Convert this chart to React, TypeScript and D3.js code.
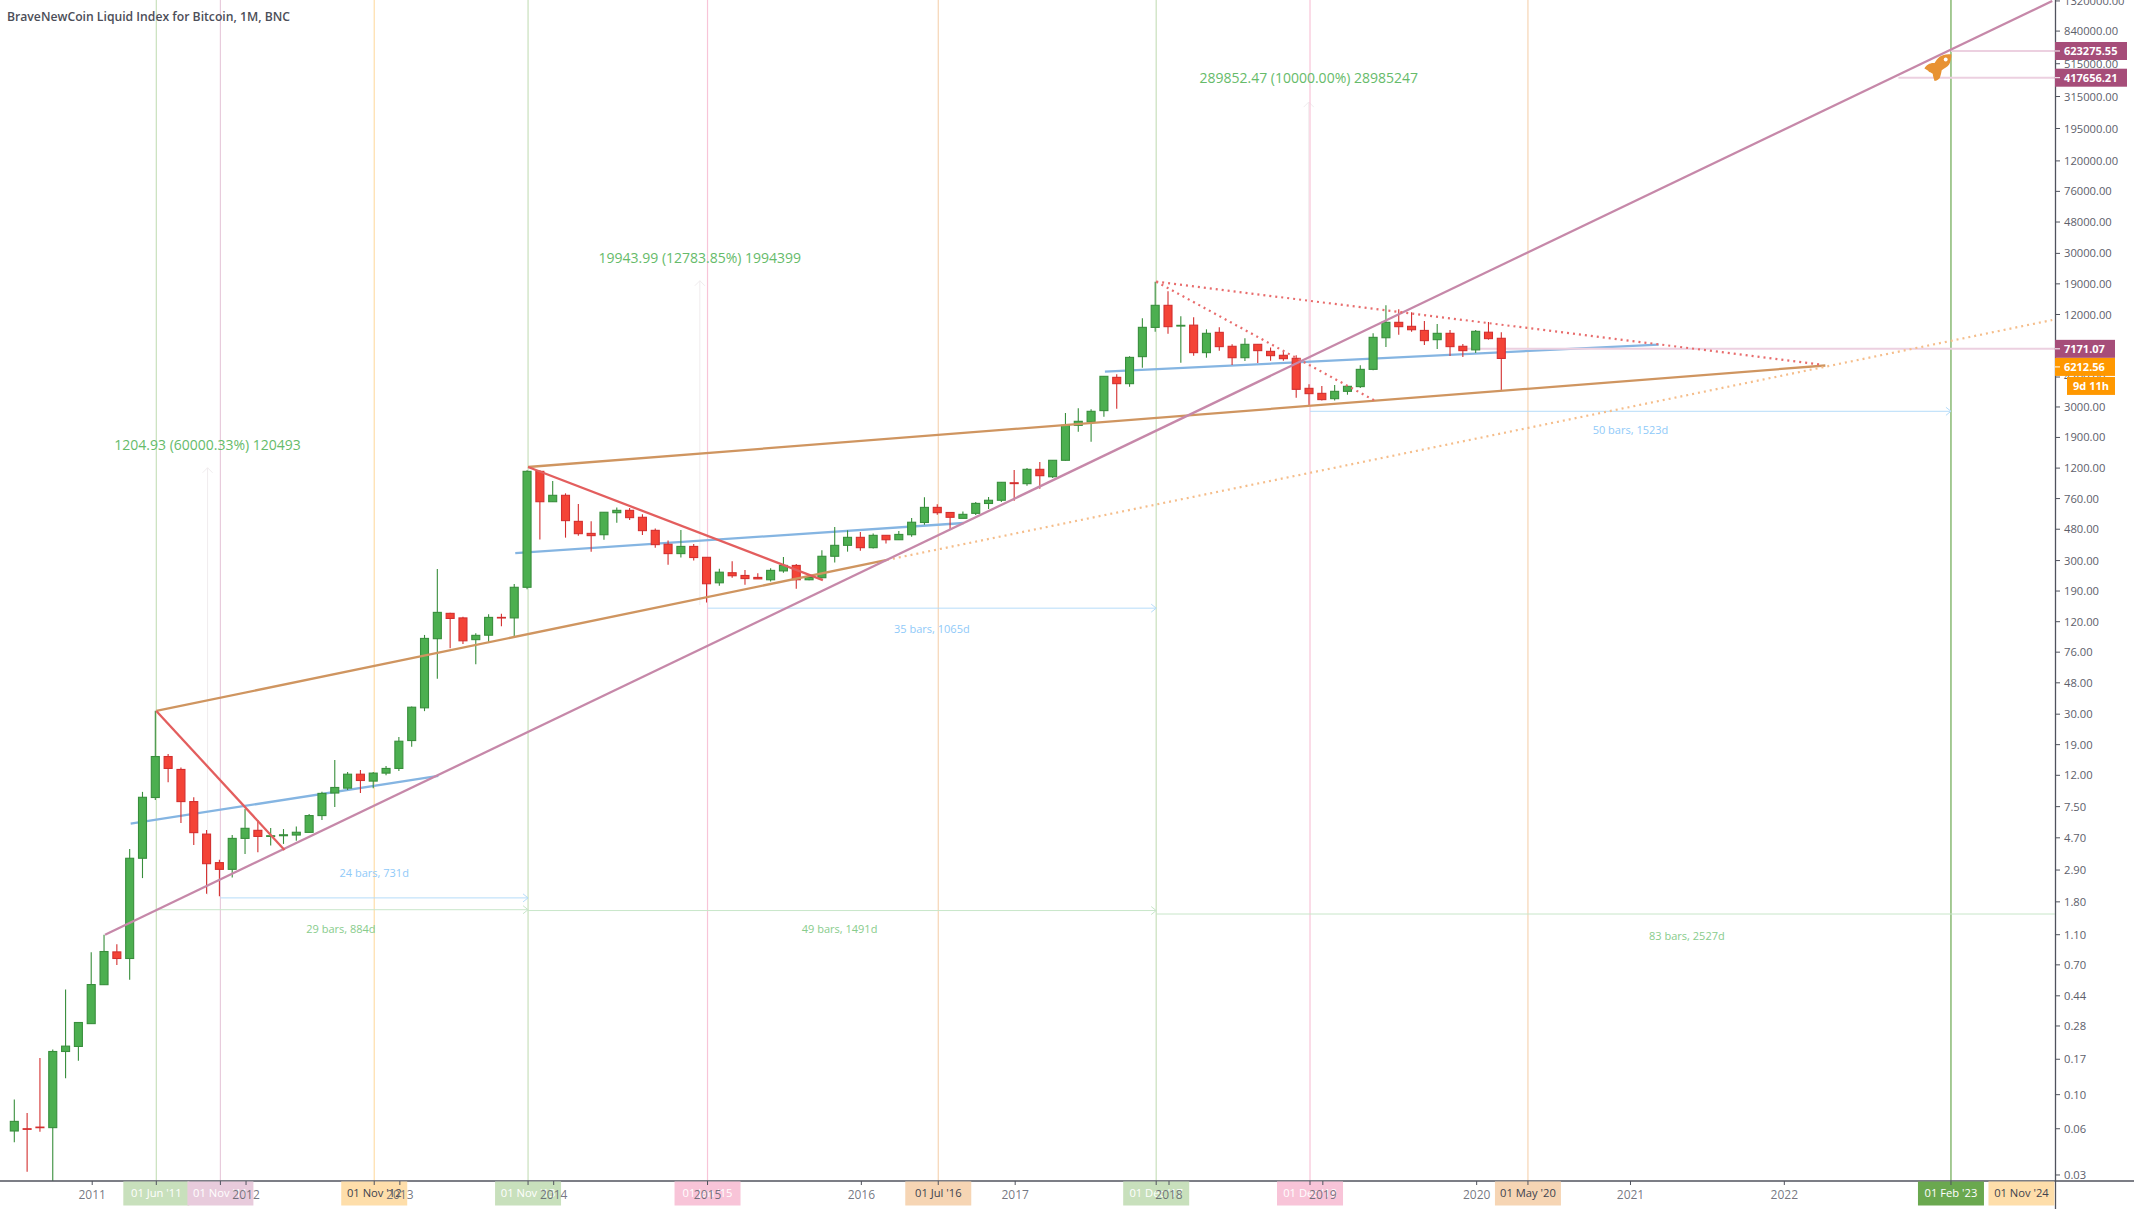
import * as d3 from "d3";

const width = 2134;
const height = 1209;
const plotRight = 2055;
const plotBottom = 1181;
const font = "'Open Sans', sans-serif";

// monthly bars from Jul 2010 to Mar 2020
const opens = [0.058,0.06,0.0615,0.061,0.191,0.206,0.29,0.52,0.85,0.77,3.46,8.6,15.9,13.1,8.09,4.97,3.24,2.93,4.66,5.26,4.8,4.85,4.9,5.1,6.56,9.2,9.9,12.2,11,12.4,13.3,20.2,33,93,136,127,91.7,98,128,127,201,1143,725,798,540,451,442,615,637,574,472,383,333,371,315,215,250,240,233,225,257,279,225,232,320,377,425,364,438,410,442,531,666,617,565,609,706,741,963,950,1178,1054,1349,2278,2400,2840,4677,4255,6380,9890,13770,10090,10230,6774,9183,7450,6280,7674,6905,6510,6220,3967,3680,3397,3793,4070,5272,8470,10670,10050,9450,8227,9050,7450,7060,9200,8400];
const highs = [0.093,0.076,0.173,0.197,0.484,0.295,0.845,1.1,0.955,3.98,9.36,31.6,16.5,13.5,8.63,5.29,3.38,4.91,7.25,6.13,5.45,5.36,5.57,6.72,9.36,15.1,12.6,13,12.6,13.8,21.3,33.6,98.4,264,137,129,101,134,135,211,1160,1160,989,822,700,540,619,666,660,600,486,406,475,385,315,265,297,260,248,267,316,285,244,350,496,472,460,451,438,467,568,774,697,617,627,722,778,975,1166,1201,1314,1352,2741,2940,2897,4750,4898,6412,11325,19630,16980,11670,11500,9608,9899,7674,8395,7674,7330,6840,6510,4211,4110,4169,4100,5598,9050,13770,12970,12400,10890,10400,9510,7709,9510,10720,9190];
const lows = [0.049,0.0315,0.0574,0.01,0.128,0.166,0.29,0.52,0.698,0.56,2.57,8.28,10.8,5.88,4.22,2.03,1.96,2.59,3.69,3.79,4.19,4.29,4.5,5.07,6.15,7.46,9.64,9.2,9.9,12,12.8,18.4,31.4,51,80.7,86,63.5,89,112,95.9,195,411,725,423,436,343,410,529,551,440,364,282,314,300,160,206,232,209,228,219,250,197,223,229,291,343,348,360,387,408,429,514,597,479,565,594,650,722,736,921,881,1034,1340,2070,1783,2594,2924,4066,5408,9272,8995,5830,6475,6280,6980,5623,5975,5797,6005,6005,3451,3045,3300,3300,3606,3990,5200,7375,8870,9272,7600,7155,6442,6345,6738,8230,3870];
const closes = [0.067,0.0595,0.061,0.191,0.207,0.295,0.521,0.855,0.77,3.46,8.63,15.9,13.3,8.09,5.08,3.19,2.93,4.66,5.42,4.8,4.85,4.92,5.11,6.56,9.15,10,12.2,11.1,12.4,13.3,20,33.3,93.4,138,126,90.1,97.8,128,127,201,1143,725,798,546,449,436,619,637,571,470,381,333,371,314,212,252,239,229,228,259,279,225,233,320,377,425,364,438,410,444,533,666,615,574,600,707,741,970,951,1178,1071,1349,2278,2420,2811,4750,4255,6310,9899,13770,10000,10200,6774,9050,7413,6280,7674,6980,6475,6189,3908,3664,3350,3793,4088,5272,8520,10670,10000,9550,8110,9050,7413,6980,9325,8356,6212];

const priceTicks = [1320000,840000,515000,315000,195000,120000,76000,48000,30000,19000,12000,7500,4700,3000,1900,1200,760,480,300,190,120,76,48,30,19,12,7.5,4.7,2.9,1.8,1.1,0.7,0.44,0.28,0.17,0.1,0.06,0.03];
const years = ["2011","2012","2013","2014","2015","2016","2017","2018","2019","2020","2021","2022"];
const yearBars = [6,18,30,42,54,66,78,90,102,114,126,138];

const dateMarkers = [
  { label: "01 Jun '11", bar: 11, line: "#c8e0bc", box: "#c8e0bc", text: "#ffffff" },
  { label: "01 Nov '11", bar: 16, line: "#e8cbdc", box: "#e8cbdc", text: "#ffffff" },
  { label: "01 Nov '12", bar: 28, line: "#fedeaa", box: "#fedeaa", text: "#40434e" },
  { label: "01 Nov '13", bar: 40, line: "#c8e0bc", box: "#c8e0bc", text: "#ffffff" },
  { label: "01 Jan '15", bar: 54, line: "#f8c4d8", box: "#f8c4d8", text: "#ffffff" },
  { label: "01 Jul '16", bar: 72, line: "#f6d5b4", box: "#f6d5b4", text: "#40434e" },
  { label: "01 Dec '17", bar: 89, line: "#c8e0bc", box: "#c8e0bc", text: "#ffffff" },
  { label: "01 Dec '18", bar: 101, line: "#f8c4d8", box: "#f8c4d8", text: "#ffffff" },
  { label: "01 May '20", bar: 118, line: "#f6d5b4", box: "#f6d5b4", text: "#40434e" },
  { label: "01 Feb '23", bar: 151, line: "#6aa84f", box: "#6aa84f", text: "#ffffff" },
];
// its real date is past the right edge, so the label is pinned to the axis
const pinnedLabel = { label: "01 Nov '24", bar: 156.5, box: "#fedeaa", text: "#40434e" };

type P = [number, number];
const orangeLines: P[][] = [
  [[11, 31.5], [68, 303]],
  [[40, 1220], [141.2, 5586]],
];
const orangeDotted: P[] = [[68, 303], [158.9, 11050]];
const purpleLine: P[] = [[7, 1.1], [158.9, 1319000]];
const blueLines: P[][] = [
  [[9, 5.81], [33, 11.9]],
  [[39, 335], [74, 527]],
  [[85, 5090], [128.2, 7642]],
];
const redLines: P[][] = [
  [[11, 31.5], [21, 3.92]],
  [[40, 1220], [63, 224]],
];
const redDotted: P[][] = [
  [[89, 19620], [106, 3316]],
  [[89, 19620], [140.9, 5662]],
];
const levelLines = [
  { price: 623275.55, from: 151 },
  { price: 417656.21, from: 146.9 },
  { price: 7171.07, from: 113.2 },
];
const blueRanges = [
  { from: 16, to: 40, price: 1.91, text: "24 bars, 731d", textBar: 28, textPrice: 2.77 },
  { from: 54, to: 89, price: 147, text: "35 bars, 1065d", textBar: 71.5, textPrice: 108 },
  { from: 101, to: 151, price: 2812, text: "50 bars, 1523d", textBar: 126, textPrice: 2110 },
];
const greenRanges = [
  { from: 11, to: 40, price: 1.6, text: "29 bars, 884d", textBar: 25.4, textPrice: 1.2 },
  { from: 40, to: 89, price: 1.58, text: "49 bars, 1491d", textBar: 64.3, textPrice: 1.19 },
  { from: 89, to: 159.1, price: 1.5, text: "83 bars, 2527d", textBar: 130.4, textPrice: 1.08 },
];
const priceRanges = [
  { bar: 15, low: 2, high: 1206, text: "1204.93 (60000.33%) 120493", textPrice: 1700 },
  { bar: 53.4, low: 154, high: 19900, text: "19943.99 (12783.85%) 1994399", textPrice: 28000 },
  { bar: 100.9, low: 3200, high: 290000, text: "289852.47 (10000.00%) 28985247", textPrice: 415000 },
];
const priceTags = [
  { price: 623275.55, label: "623275.55", right: 2127 },
  { price: 417656.21, label: "417656.21", right: 2127 },
  { price: 7171.07, label: "7171.07", right: 2115 },
];

const bars = d3.range(opens.length);
const x = d3.scaleLinear().domain([0, 116]).range([14.3, 1501.3]);
const y = d3.scaleLog().domain([10 ** (6.1267 - plotBottom / 153.6), 10 ** 6.1267]).range([plotBottom, 0]);
// drawings sit one pixel to the right of the bar centres
const dx = (bar: number) => x(bar) + 1;
const path = d3.line<P>().x((d) => dx(d[0])).y((d) => y(d[1]));

function App() {
  return (
    <svg width={width} height={height} style={{ position: "fixed", left: 0, top: 0, background: "#fff" }} fontFamily={font}>
      <defs>
        <clipPath id="plot">
          <rect x={0} y={0} width={plotRight} height={plotBottom} />
        </clipPath>
      </defs>

      <g clipPath="url(#plot)">
        {priceRanges.map((r) => (
          <g key={r.text} stroke="#f0ecee" fill="none">
            <line x1={dx(r.bar)} x2={dx(r.bar)} y1={y(r.low)} y2={y(r.high)} />
            <path d={`M${dx(r.bar) - 5},${y(r.high) + 5}L${dx(r.bar)},${y(r.high)}L${dx(r.bar) + 5},${y(r.high) + 5}`} />
          </g>
        ))}
        {dateMarkers.map((m) => (
          <line key={m.label} x1={dx(m.bar)} x2={dx(m.bar)} y1={0} y2={plotBottom} stroke={m.line} strokeWidth={1.2} />
        ))}
        {blueLines.map((l, i) => (
          <path key={i} d={path(l) as string} stroke="#85b5e2" strokeWidth={2.3} fill="none" />
        ))}
        {levelLines.map((l) => (
          <line key={l.price} x1={dx(l.from)} x2={plotRight} y1={y(l.price)} y2={y(l.price)} stroke="#ecd0e0" strokeWidth={2} />
        ))}

        {bars.map((i) => {
          const up = closes[i] >= opens[i];
          const edge = up ? "#388e3c" : "#d32f2f";
          const top = y(Math.max(opens[i], closes[i]));
          const bottom = y(Math.min(opens[i], closes[i]));
          return (
            <g key={i}>
              <line x1={x(i)} x2={x(i)} y1={y(highs[i])} y2={y(lows[i])} stroke={edge} strokeWidth={1.1} />
              <rect x={x(i) - 4} y={top} width={8} height={Math.max(bottom - top, 0.6)} fill={up ? "#4caf50" : "#f44336"} stroke={edge} strokeWidth={1.1} />
            </g>
          );
        })}

        {blueRanges.map((r) => (
          <g key={r.text} stroke="#b6dcf9" fill="none">
            <line x1={dx(r.from)} x2={dx(r.to)} y1={y(r.price)} y2={y(r.price)} />
            <path d={`M${dx(r.to) - 5},${y(r.price) - 4}L${dx(r.to)},${y(r.price)}L${dx(r.to) - 5},${y(r.price) + 4}`} />
          </g>
        ))}
        {greenRanges.map((r) => (
          <g key={r.text} stroke="#c8e6c9" fill="none">
            <line x1={dx(r.from)} x2={dx(r.to)} y1={y(r.price)} y2={y(r.price)} />
            {r.to < 159 && <path d={`M${dx(r.to) - 5},${y(r.price) - 4}L${dx(r.to)},${y(r.price)}L${dx(r.to) - 5},${y(r.price) + 4}`} />}
          </g>
        ))}

        {orangeLines.map((l, i) => (
          <path key={i} d={path(l) as string} stroke="#cf9560" strokeWidth={2.3} fill="none" />
        ))}
        <path d={path(orangeDotted) as string} stroke="#f5bd8a" strokeWidth={2.2} strokeDasharray="2 4" fill="none" />
        <path d={path(purpleLine) as string} stroke="#c688a9" strokeWidth={2.3} fill="none" />
        {redLines.map((l, i) => (
          <path key={i} d={path(l) as string} stroke="#e35e5e" strokeWidth={2.3} fill="none" />
        ))}
        {redDotted.map((l, i) => (
          <path key={i} d={path(l) as string} stroke="#e86c6c" strokeWidth={2.2} strokeDasharray="2 4" fill="none" />
        ))}
      </g>

      {/* rocket */}
      <g transform={`translate(${dx(150)},${y(480000)}) scale(1.08)`}>
        <path
          d="M12.3,-13C7,-13.5 4,-12.5 1.7,-11C-0.5,-9.5 -2,-7 -3.3,-5C-7,-5.5 -11,-3.5 -12.7,0C-11,0.8 -9.5,1.5 -8.3,3.3C-7,3.5 -6,4.2 -5,5C-4.8,7.5 -4,9.8 -3.3,11.7C-0.5,11 1.2,9.5 1.7,8.3C2.5,6 3,3.8 3.3,1.7C6,0 8.5,-1.5 10,-3.3C11.5,-6 12.3,-9.5 12.3,-13Z"
          fill="#e89233"
        />
        <circle cx={7} cy={-8.3} r={1.8} fill="#fff" />
      </g>

      {blueRanges.map((r) => (
        <text key={r.text} x={dx(r.textBar)} y={y(r.textPrice)} dy="0.35em" textAnchor="middle" fontSize={11} fill="#90caf9">{r.text}</text>
      ))}
      {greenRanges.map((r) => (
        <text key={r.text} x={dx(r.textBar)} y={y(r.textPrice)} dy="0.35em" textAnchor="middle" fontSize={11} fill="#88cc8c">{r.text}</text>
      ))}
      {priceRanges.map((r) => (
        <text key={r.text} x={dx(r.bar)} y={y(r.textPrice)} dy="0.35em" textAnchor="middle" fontSize={14} fill="#66bb6a">{r.text}</text>
      ))}

      <text x={7} y={21} fontSize={12.2} fontWeight={600} fill="#4c4e58">BraveNewCoin Liquid Index for Bitcoin, 1M, BNC</text>

      {/* axes */}
      <line x1={plotRight + 0.5} x2={plotRight + 0.5} y1={0} y2={height} stroke="#50535e" strokeWidth={1.3} />
      <line x1={0} x2={width} y1={plotBottom} y2={plotBottom} stroke="#50535e" strokeWidth={1.3} />
      {priceTicks.map((t) => (
        <g key={t} transform={`translate(${plotRight},${y(t)})`}>
          <line x1={0} x2={5} stroke="#50535e" />
          <text x={9} dy="0.36em" fontSize={11.2} fill="#5d606b">{d3.format(".2f")(t)}</text>
        </g>
      ))}

      {dateMarkers.concat([{ ...pinnedLabel, line: "none" }]).map((m) => (
        <g key={m.label} transform={`translate(${dx(m.bar)},${plotBottom})`}>
          <rect x={-33} y={0.5} width={66} height={24} fill={m.box} />
          <line y1={0} y2={4} stroke={m.line === "none" ? "none" : "#50535e"} />
          <text y={12} dy="0.36em" textAnchor="middle" fontSize={11.2} fill={m.text}>{m.label}</text>
        </g>
      ))}
      {years.map((label, i) => (
        <g key={label} transform={`translate(${x(yearBars[i]) + 1},${plotBottom})`}>
          <line y1={0} y2={4} stroke="#50535e" />
          <text y={14} dy="0.36em" textAnchor="middle" fontSize={12} fill="#5d606b" fillOpacity={0.85}>{label}</text>
        </g>
      ))}

      {priceTags.map((t) => (
        <g key={t.label} transform={`translate(${plotRight},${y(t.price)})`}>
          <rect x={0} y={-9} width={t.right - plotRight} height={18} fill="#a64d79" />
          <line x1={0} x2={5} stroke="#fff" />
          <text x={9} dy="0.36em" fontSize={11} fontWeight={700} fill="#fff">{t.label}</text>
        </g>
      ))}
      <g transform={`translate(${plotRight},${y(closes[116]) + 8.5})`}>
        <rect x={0} y={-9} width={60} height={18} fill="#ff9800" />
        <line x1={0} x2={5} stroke="#fff" />
        <text x={9} dy="0.36em" fontSize={11} fontWeight={700} fill="#fff">{d3.format(".2f")(6212.56)}</text>
        <rect x={12} y={10} width={48} height={18} fill="#ff9800" />
        <text x={36} y={19} dy="0.36em" textAnchor="middle" fontSize={11} fontWeight={700} fill="#fff">9d 11h</text>
      </g>
    </svg>
  );
}

export default App;
